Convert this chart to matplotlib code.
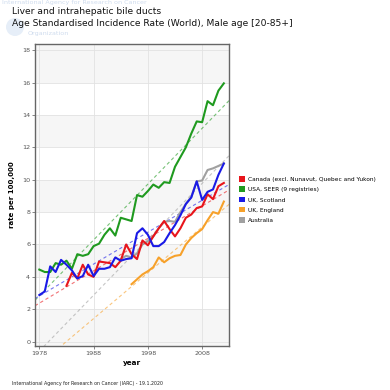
import numpy as np
import matplotlib
matplotlib.use("Agg")
from matplotlib import pyplot as plt
from matplotlib.patches import Patch, Circle

# data
years_usa = list(range(1978, 2013))
usa = [4.45, 4.3, 4.3, 4.85, 4.75, 5.0, 4.5, 5.4, 5.3, 5.4, 5.9, 6.05, 6.6, 7.0,
       6.55, 7.65, 7.55, 7.45, 9.05, 8.95, 9.3, 9.7, 9.5, 9.85, 9.8, 10.8, 11.4,
       12.0, 12.85, 13.6, 13.55, 14.85, 14.6, 15.5, 15.95]

years_sco = list(range(1978, 2013))
scotland = [2.88, 3.1, 4.65, 4.3, 5.05, 4.75, 4.4, 3.9, 4.05, 4.75, 4.05, 4.5,
            4.5, 4.6, 5.2, 5.0, 5.1, 5.15, 6.7, 7.0, 6.6, 5.9, 5.9, 6.15, 6.7,
            7.2, 7.8, 8.5, 8.9, 9.9, 8.75, 9.25, 9.4, 10.3, 11.0]

years_can = list(range(1983, 2013))
canada = [3.45, 4.25, 3.9, 4.75, 4.15, 4.0, 4.95, 4.9, 4.85, 4.6, 5.0, 6.0, 5.4,
          5.1, 6.25, 5.95, 6.5, 7.0, 7.45, 6.95, 6.5, 7.0, 7.65, 7.85, 8.25,
          8.35, 9.1, 8.8, 9.6, 9.8]

years_eng = list(range(1995, 2013))
england = [3.55, 3.85, 4.15, 4.35, 4.6, 5.2, 4.9, 5.15, 5.3, 5.35, 6.0, 6.4,
           6.7, 6.95, 7.5, 8.0, 7.9, 8.65]

years_aus = list(range(1993, 2013))
australia = [5.1, 5.3, 5.2, 5.45, 6.0, 6.2, 6.5, 7.0, 7.4, 7.45, 7.4, 8.0, 8.5,
             8.95, 9.9, 9.95, 10.6, 10.7, 10.85, 11.0]

labels = ["Canada (excl. Nunavut, Quebec and Yukon)", "USA, SEER (9 registries)",
          "UK, Scotland", "UK, England", "Australia"]
colors = ["#e8151b", "#1f9a1f", "#1a1ae6", "#f7a12a", "#a0a0a0"]
series = [(years_can, canada), (years_usa, usa), (years_sco, scotland),
          (years_eng, england), (years_aus, australia)]

xlim = (1977.2, 2012.95)
ylim = (-0.25, 18.38)

fig = plt.figure(figsize=(3.9, 3.9), dpi=100)
ax = fig.add_axes([35/390, 1-345.7/390, 194/390, 301.7/390])
ax.set_xlim(*xlim)
ax.set_ylim(*ylim)

# banded background
for lo, hi in [(ylim[0], 2), (4, 6), (8, 10), (12, 14), (16, ylim[1])]:
    ax.axhspan(lo, hi, color="#f6f6f6", lw=0, zorder=0)
for yv in range(0, 19, 2):
    ax.axhline(yv, color="#e2e2e2", lw=0.6, zorder=0.5)
for xv in [1978, 1988, 1998, 2008]:
    ax.axvline(xv, color="#e2e2e2", lw=0.6, zorder=0.5)

# trend lines
xx = np.array(xlim)
for (yrs, vals), c in zip(series, colors):
    k, b = np.polyfit(yrs, vals, 1)
    ax.plot(xx, k*xx + b, ls=(0, (3, 2.5)), lw=0.8, color=c, alpha=0.6, zorder=1)

# actual series, australia underneath
order = [4, 0, 1, 2, 3]
for i in order:
    yrs, vals = series[i]
    ax.plot(yrs, vals, color=colors[i], lw=1.5, zorder=2)

ax.set_xticks([1978, 1988, 1998, 2008])
ax.set_yticks(range(0, 19, 2))
ax.tick_params(labelsize=4.6, colors="#555555", length=2, width=0.5, pad=1.5)
for s in ax.spines.values():
    s.set_color("#666666")
    s.set_linewidth(1.0)
ax.set_xlabel("year", fontsize=5.2, fontweight="bold", labelpad=3)
ax.set_ylabel("rate per 100,000", fontsize=5.0, fontweight="bold", labelpad=5)

handles = [Patch(facecolor=c, edgecolor="none") for c in colors]
fig.legend(handles, labels, loc="upper left", bbox_to_anchor=(237/390, 1-174/390),
           frameon=False, fontsize=4.2, handlelength=0.9, handleheight=1.1,
           handletextpad=0.6, labelspacing=0.75, borderaxespad=0)

# faint watermark (kept clear of the title)
wm = "#cfdcee"
fig.patches.append(Circle((15/390, 1-27/390), 9/390, transform=fig.transFigure,
                          facecolor="#e6eef8", edgecolor="none", zorder=0))
fig.text(2/390, 1-2.5/390, "International Agency for Research on Cancer", fontsize=4.6,
         color=wm, va="center", ha="left")
fig.text(28/390, 1-33/390, "Organization", fontsize=4.6, color=wm, va="center")

fig.text(12/390, 1-12/390, "Liver and intrahepatic bile ducts", fontsize=6.6,
         va="center", ha="left", color="#111111")
fig.text(12/390, 1-23/390, "Age Standardised Incidence Rate (World), Male age [20-85+]",
         fontsize=6.6, va="center", ha="left", color="#111111")
fig.text(12/390, 1-383/390, "International Agency for Research on Cancer (IARC) - 19.1.2020",
         fontsize=3.4, va="center", ha="left", color="#222222")

fig.savefig("out.png", dpi=100)
